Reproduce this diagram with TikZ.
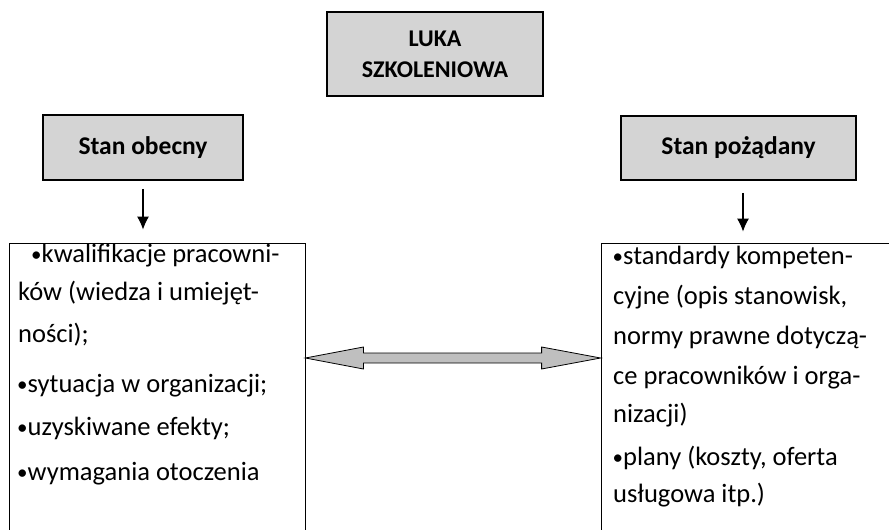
\documentclass[tikz,border=0pt]{standalone}
\usepackage{fontspec}
\setmainfont{Carlito}
\usetikzlibrary{calc,arrows.meta}
\newcommand\blt{\makebox[10.5pt][l]{\raisebox{1.5pt}{\fontsize{21}{21}\selectfont\textbullet}}}
\begin{document}
\begin{tikzpicture}[x=1pt,y=-1pt,
  titlebox/.style={draw, line width=1.5pt, fill=black!17, align=center, inner sep=0pt,
    font=\bfseries\fontsize{24}{31}\selectfont},
  headbox/.style={draw, line width=1.5pt, fill=black!17, inner sep=0pt,
    font=\bfseries\fontsize{25.5}{30}\selectfont},
  listbox/.style={draw, line width=0.8pt, inner sep=0pt},
  item/.style={anchor=west, inner sep=0pt, text height=0.75em, text depth=0.25em,
    font=\fontsize{26.5}{30}\selectfont},
  down/.style={-{Latex[length=13pt,width=12pt]}, line width=1.2pt},
  gap/.style={draw, line width=0.8pt, fill=black!25},
]
\useasboundingbox (0,0) rectangle (889,530);
\clip (0,0) rectangle (889,530);

% title and the two state headers
\node[titlebox, minimum width=216, minimum height=84] (title) at (435,54) {LUKA\\SZKOLENIOWA};
\node[headbox, minimum width=200, minimum height=65] (lh) at (143,147.5) {Stan obecny};
\node[headbox, minimum width=235, minimum height=64] (rh) at (738.5,148) {Stan pożądany};

% the two lists, running past the lower edge
\node[listbox, minimum width=296, minimum height=302] (lbox) at (157,394) {};
\node[listbox, minimum width=304, minimum height=302] (rbox) at (753,394) {};

\node[item] (l1) at (31,260) {\blt kwalifikacje pracowni-};
\node[item] (l2) at (18,298) {ków (wiedza i umiejęt-};
\node[item] (l3) at (18,340) {ności);};
\node[item] (l4) at (17,390) {\blt sytuacja w organizacji;};
\node[item] (l5) at (17,433) {\blt uzyskiwane efekty;};
\node[item] (l6) at (17,478) {\blt wymagania otoczenia};

\node[item] (r1) at (612.5,262) {\blt standardy kompeten-};
\node[item] (r2) at (613,302) {cyjne (opis stanowisk,};
\node[item] (r3) at (613,342) {normy prawne dotyczą-};
\node[item] (r4) at (613,382) {ce pracowników i orga-};
\node[item] (r5) at (613,420) {nizacji)};
\node[item] (r6) at (612.5,463) {\blt plany (koszty, oferta};
\node[item] (r7) at (613,500) {usługowa itp.)};

% arrows from the headers down to the lists
\draw[down, shorten >=13pt] ($(lh.south)+(0,8)$) -- (lh.south |- lbox.north);
\draw[down, shorten >=11pt] ($(rh.south)+(4.5,12)$) -- ($(rh.south |- rbox.north)+(4.5,0)$);

% double block arrow between the lists
\coordinate (aL) at (lbox.east |- 0,358);
\coordinate (aR) at (rbox.west |- 0,358);
\draw[gap] (aL) -- ++(58,-11) -- ++(0,6) -- ($(aR)+(-59,-5)$) -- ++(0,-6) -- (aR)
  -- ++(-59,11) -- ++(0,-6) -- ($(aL)+(58,5)$) -- ++(0,6) -- cycle;
\end{tikzpicture}
\end{document}
